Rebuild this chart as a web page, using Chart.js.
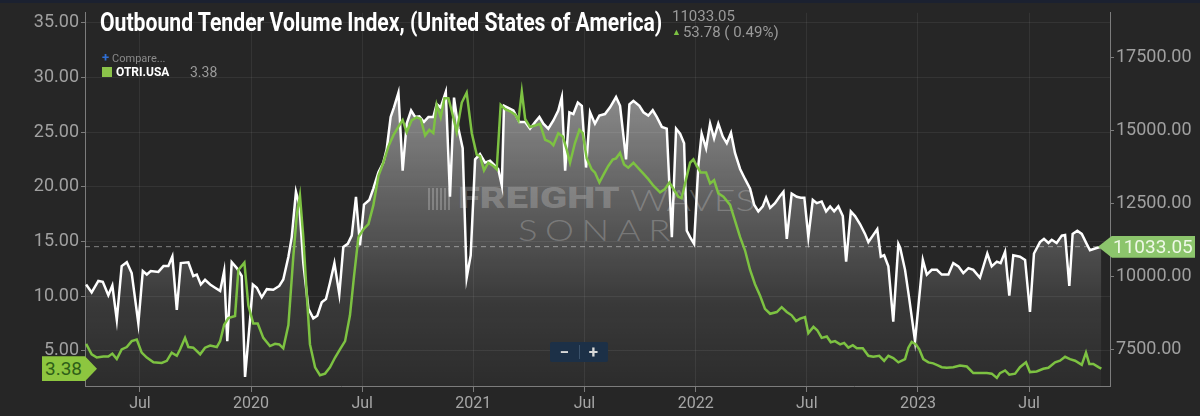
<!DOCTYPE html>
<html>
<head>
<meta charset="utf-8">
<script src="https://cdn.jsdelivr.net/npm/chart.js@4.4.0/dist/chart.umd.min.js"></script>
<style>
    body { margin: 0; background: #262626; font-family: Roboto, "Noto Sans", sans-serif; overflow: hidden; }
    #wrap { position: relative; width: 1200px; height: 416px; }
    #topbar { position: absolute; left: 0; top: 0; width: 1200px; height: 3px; background: #1b2130; z-index: 3; }
    #c { position: absolute; left: 0; top: 0; z-index: 2; }
    .txt { position: absolute; white-space: nowrap; line-height: 1; transform-origin: left center; }
    #title { left: 100px; top: 10px; font-size: 25px; font-weight: 700; color: #ffffff; z-index: 4; }
    #lastVal { left: 672px; top: 9px; font-size: 15px; color: #9a9a9a; z-index: 4; }
    #change { left: 672px; top: 25px; font-size: 15px; color: #9a9a9a; z-index: 4; }
    #change span { color: #7cc242; font-size: 9px; vertical-align: 2px; margin-right: 2px; }
    #compare { left: 102px; top: 51px; font-size: 11px; color: #8a8a8a; z-index: 4; }
    #compare b { color: #2f6fd6; font-size: 13px; margin-right: 3px; }
    #legSq { position: absolute; left: 102px; top: 67px; width: 10px; height: 10px; background: #8bc34a; z-index: 4; }
    #legName { left: 116px; top: 66px; font-size: 12px; font-weight: 700; color: #ffffff; z-index: 4; }
    #legVal { left: 190px; top: 65px; font-size: 14px; color: #9a9a9a; z-index: 4; }
    .wm { position: absolute; white-space: nowrap; line-height: 1; transform-origin: left center; color: rgba(160,160,160,0.4); z-index: 1; }
    #wmLogo { position: absolute; left: 428px; top: 188px; width: 22px; height: 22px; z-index: 1;
        background: repeating-linear-gradient(90deg, rgba(160,160,160,0.4) 0 2px, transparent 2px 4px); }
    #wmF { left: 458px; top: 184px; font-family: Roboto, sans-serif; font-weight: 900; font-size: 29px; }
    #wmW { left: 630px; top: 185px; font-family: Lato, sans-serif; font-weight: 300; font-size: 29px; }
    #wmS { left: 518px; top: 215px; font-family: Lato, sans-serif; font-weight: 300; font-size: 29px; letter-spacing: 6px; }
    #zoomBox { position: absolute; left: 550px; top: 342px; width: 58px; height: 20px; background: #1c3047; border-radius: 2px; z-index: 4;
        color: #d8d8d8; font-size: 17px; font-weight: 700; line-height: 20px; }
    #zoomBox span { position: absolute; top: 0; width: 29px; text-align: center; }
    #zoomBox i { position: absolute; left: 29px; top: 3px; width: 1px; height: 14px; background: #3b526b; }
    #boxR { position: absolute; left: 1098px; width: 97px; height: 22px; background: #8cc56c; z-index: 4;
        clip-path: polygon(0 50%, 14px 0, 100% 0, 100% 100%, 14px 100%);
        color: #eef8e6; font-size: 19px; line-height: 22px; padding-left: 15px; box-sizing: border-box; }
    #boxL { position: absolute; left: 42px; width: 55px; height: 25px; background: #8dc63f; z-index: 4;
        clip-path: polygon(0 0, 43px 0, 100% 50%, 43px 100%, 0 100%);
        color: #2f5f18; font-size: 19px; line-height: 25px; padding-left: 3px; box-sizing: border-box; }
</style>
</head>
<body>
<div id="wrap">
    <div id="topbar"></div>
    <div id="wmLogo"></div>
    <div class="wm" id="wmF">FREIGHT</div>
    <div class="wm" id="wmW">WAVES</div>
    <div class="wm" id="wmS">SONAR</div>
    <canvas id="c" width="1200" height="416"></canvas>
    <div class="txt" id="title">Outbound Tender Volume Index, (United States of America)</div>
    <div class="txt" id="lastVal"></div>
    <div class="txt" id="change"></div>
    <div class="txt" id="compare"><b>+</b>Compare...</div>
    <div id="legSq"></div>
    <div class="txt" id="legName">OTRI.USA</div>
    <div class="txt" id="legVal"></div>
    <div id="zoomBox"><span style="left:0">&minus;</span><i></i><span style="left:29px">+</span></div>
    <div id="boxR"></div>
    <div id="boxL"></div>
</div>
<script>
// Outbound Tender Volume Index (white, right axis), dates as decimal years
const otviDates = [
    2019.258, 2019.283, 2019.313, 2019.333, 2019.358, 2019.376, 2019.396, 2019.418, 2019.441, 2019.463,
    2019.493, 2019.513, 2019.531, 2019.549, 2019.583, 2019.606, 2019.628, 2019.646, 2019.666, 2019.684,
    2019.718, 2019.740, 2019.756, 2019.774, 2019.793, 2019.816, 2019.838, 2019.861, 2019.879, 2019.893,
    2019.913, 2019.936, 2019.958, 2019.973, 2019.996, 2020.008, 2020.026, 2020.048, 2020.071, 2020.100,
    2020.127, 2020.145, 2020.168, 2020.183, 2020.202, 2020.217, 2020.235, 2020.258, 2020.280, 2020.298,
    2020.318, 2020.337, 2020.355, 2020.375, 2020.397, 2020.415, 2020.435, 2020.453, 2020.472, 2020.490,
    2020.508, 2020.532, 2020.550, 2020.573, 2020.595, 2020.610, 2020.628, 2020.643, 2020.663, 2020.682,
    2020.700, 2020.720, 2020.738, 2020.757, 2020.778, 2020.798, 2020.820, 2020.835, 2020.853, 2020.876,
    2020.895, 2020.913, 2020.933, 2020.952, 2020.970, 2020.988, 2021.008, 2021.030, 2021.053, 2021.075,
    2021.098, 2021.112, 2021.128, 2021.138, 2021.180, 2021.207, 2021.233, 2021.255, 2021.278, 2021.297,
    2021.315, 2021.337, 2021.360, 2021.382, 2021.398, 2021.413, 2021.432, 2021.450, 2021.470, 2021.488,
    2021.507, 2021.525, 2021.547, 2021.567, 2021.592, 2021.615, 2021.642, 2021.660, 2021.687, 2021.702,
    2021.720, 2021.747, 2021.765, 2021.787, 2021.807, 2021.825, 2021.848, 2021.870, 2021.893, 2021.912,
    2021.930, 2021.948, 2021.960, 2021.975, 2021.993, 2022.012, 2022.027, 2022.047, 2022.065, 2022.083,
    2022.102, 2022.122, 2022.140, 2022.159, 2022.177, 2022.200, 2022.222, 2022.245, 2022.263, 2022.282,
    2022.302, 2022.317, 2022.335, 2022.357, 2022.377, 2022.395, 2022.410, 2022.432, 2022.455, 2022.473,
    2022.489, 2022.507, 2022.527, 2022.545, 2022.567, 2022.587, 2022.605, 2022.623, 2022.642, 2022.662,
    2022.677, 2022.698, 2022.717, 2022.740, 2022.762, 2022.777, 2022.797, 2022.817, 2022.833, 2022.848,
    2022.867, 2022.889, 2022.912, 2022.920, 2022.942, 2022.960, 2022.987, 2023.022, 2023.040, 2023.062,
    2023.085, 2023.107, 2023.137, 2023.159, 2023.182, 2023.204, 2023.227, 2023.249, 2023.279, 2023.312,
    2023.332, 2023.355, 2023.372, 2023.392, 2023.411, 2023.429, 2023.459, 2023.482, 2023.504, 2023.522,
    2023.549, 2023.567, 2023.587, 2023.602, 2023.624, 2023.647, 2023.662, 2023.681, 2023.696, 2023.717,
    2023.737, 2023.759, 2023.774, 2023.797, 2023.825
];
const otviValues = [
    9740, 9470, 9860, 9830, 9370, 9700, 8530, 10370, 10500, 10130,
    8410, 10200, 10080, 10200, 10170, 10370, 10370, 10700, 8870, 10470,
    10500, 10030, 10080, 9740, 9900, 9740, 9630, 9520, 10200, 7800,
    10500, 10300, 10030, 6580, 8580, 9740, 9630, 9300, 9580, 9560,
    9690, 9910, 10690, 11360, 12910, 12470, 10470, 8910, 8580, 8670,
    9130, 9240, 9800, 10470, 9410, 11020, 11130, 11410, 12740, 11080,
    12470, 12630, 13020, 13580, 13910, 14360, 15470, 15800, 16300, 13630,
    15240, 15690, 15470, 15490, 15300, 15470, 15470, 15910, 15800, 16330,
    12740, 16130, 15070, 14400, 9970, 10740, 14020, 14200, 13910, 13970,
    13800, 13690, 13130, 15850, 15690, 15300, 15300, 15070, 15300, 15470,
    15240, 15070, 15350, 15690, 16150, 13630, 15630, 15570, 15960, 15850,
    13740, 15630, 15240, 15520, 15570, 15800, 16150, 15850, 14020, 15900,
    16020, 15850, 15630, 15520, 15700, 15470, 15130, 15070, 11360, 15070,
    14900, 14570, 11580, 11360, 11130, 13800, 14900, 14400, 15240, 14740,
    15240, 14800, 14570, 14930, 14240, 13690, 13350, 13020, 12470, 12240,
    12410, 12710, 12360, 12520, 12740, 12910, 11300, 12850, 12740, 12710,
    12710, 11360, 12630, 12520, 12580, 12240, 12410, 12240, 12410, 12080,
    10520, 12240, 12080, 11800, 11470, 11190, 11410, 11630, 10690, 10740,
    10360, 8470, 11130, 11000, 10240, 9300, 7800, 10580, 10080, 10240,
    10240, 10080, 10080, 10470, 10360, 10130, 10300, 10240, 9970, 10800,
    10360, 10520, 10470, 10860, 9360, 10740, 10690, 10580, 8800, 10800,
    11190, 11300, 11160, 11270, 11160, 11410, 11430, 9690, 11470, 11580,
    11470, 11130, 10910, 10970, 11033.05
];

// Outbound Tender Reject Index (green, left axis)
const otriDates = [
    2019.258, 2019.283, 2019.306, 2019.336, 2019.358, 2019.376, 2019.396, 2019.418, 2019.441, 2019.463,
    2019.486, 2019.508, 2019.531, 2019.561, 2019.598, 2019.621, 2019.643, 2019.666, 2019.681, 2019.703,
    2019.718, 2019.740, 2019.771, 2019.793, 2019.816, 2019.846, 2019.861, 2019.879, 2019.898, 2019.928,
    2019.943, 2019.970, 2019.988, 2020.010, 2020.030, 2020.055, 2020.085, 2020.108, 2020.127, 2020.145,
    2020.168, 2020.190, 2020.206, 2020.220, 2020.235, 2020.251, 2020.265, 2020.288, 2020.310, 2020.333,
    2020.355, 2020.378, 2020.400, 2020.423, 2020.445, 2020.463, 2020.483, 2020.505, 2020.528, 2020.550,
    2020.573, 2020.595, 2020.618, 2020.640, 2020.663, 2020.682, 2020.700, 2020.723, 2020.745, 2020.763,
    2020.783, 2020.802, 2020.820, 2020.835, 2020.853, 2020.870, 2020.888, 2020.903, 2020.925, 2020.948,
    2020.970, 2020.993, 2021.015, 2021.030, 2021.048, 2021.067, 2021.090, 2021.105, 2021.123, 2021.143,
    2021.165, 2021.188, 2021.203, 2021.218, 2021.233, 2021.255, 2021.278, 2021.300, 2021.323, 2021.345,
    2021.360, 2021.382, 2021.402, 2021.420, 2021.435, 2021.457, 2021.477, 2021.492, 2021.510, 2021.532,
    2021.547, 2021.567, 2021.588, 2021.607, 2021.627, 2021.642, 2021.660, 2021.678, 2021.697, 2021.720,
    2021.747, 2021.765, 2021.787, 2021.810, 2021.840, 2021.862, 2021.882, 2021.900, 2021.922, 2021.937,
    2021.957, 2021.975, 2021.990, 2022.005, 2022.023, 2022.047, 2022.065, 2022.083, 2022.102, 2022.125,
    2022.155, 2022.177, 2022.200, 2022.222, 2022.245, 2022.267, 2022.290, 2022.312, 2022.335, 2022.365,
    2022.387, 2022.410, 2022.432, 2022.452, 2022.470, 2022.492, 2022.507, 2022.530, 2022.547, 2022.567,
    2022.590, 2022.608, 2022.627, 2022.650, 2022.668, 2022.687, 2022.707, 2022.725, 2022.752, 2022.777,
    2022.799, 2022.826, 2022.848, 2022.867, 2022.889, 2022.912, 2022.942, 2022.957, 2022.972, 2022.991,
    2023.006, 2023.024, 2023.047, 2023.069, 2023.092, 2023.107, 2023.130, 2023.159, 2023.189, 2023.220,
    2023.249, 2023.279, 2023.310, 2023.332, 2023.355, 2023.369, 2023.392, 2023.411, 2023.437, 2023.459,
    2023.486, 2023.504, 2023.534, 2023.564, 2023.587, 2023.617, 2023.639, 2023.662, 2023.684, 2023.707,
    2023.737, 2023.756, 2023.771, 2023.789, 2023.812, 2023.825
];
const otriValues = [
    5.65, 4.70, 4.40, 4.50, 4.50, 4.76, 4.26, 5.15, 5.36, 5.90,
    6.04, 4.85, 4.40, 3.96, 3.90, 4.10, 4.85, 4.56, 5.15, 6.20,
    5.36, 5.30, 4.70, 5.30, 5.50, 5.36, 5.90, 7.40, 8.00, 8.20,
    12.40, 13.07, 9.15, 7.50, 7.50, 6.20, 5.45, 5.65, 5.60, 5.24,
    7.37, 13.60, 17.46, 19.20, 15.40, 10.04, 5.60, 3.50, 2.78, 2.93,
    3.50, 4.40, 5.15, 5.90, 8.26, 11.80, 15.40, 16.10, 16.60, 18.30,
    21.00, 22.20, 23.70, 24.70, 25.50, 26.10, 25.00, 26.10, 26.35, 26.20,
    24.70, 25.20, 24.90, 27.50, 26.35, 28.10, 28.10, 26.90, 25.00, 27.70,
    28.60, 24.90, 22.95, 22.80, 21.50, 22.20, 21.90, 21.60, 27.50, 27.10,
    26.90, 26.60, 26.05, 28.70, 26.20, 25.46, 25.60, 25.75, 24.30, 24.10,
    23.80, 24.90, 24.60, 23.40, 22.20, 24.00, 25.20, 24.90, 22.60, 21.60,
    21.30, 20.40, 21.20, 21.90, 22.50, 22.60, 23.10, 22.05, 21.75, 22.20,
    21.60, 21.20, 20.70, 20.10, 19.50, 19.80, 20.40, 19.80, 19.10, 18.95,
    20.70, 22.20, 22.50, 21.90, 21.30, 21.30, 20.30, 20.60, 19.40, 19.10,
    18.35, 16.90, 15.40, 14.20, 12.40, 11.10, 10.04, 8.85, 8.40, 8.56,
    9.00, 8.56, 8.26, 7.73, 7.96, 8.10, 6.63, 7.20, 6.90, 6.20,
    6.33, 5.80, 5.90, 5.60, 5.74, 5.30, 5.53, 5.24, 5.24, 4.56,
    4.47, 4.56, 4.10, 4.56, 4.35, 3.96, 4.26, 5.30, 5.83, 5.60,
    5.15, 4.26, 3.96, 3.87, 3.67, 3.52, 3.46, 3.52, 3.67, 3.58,
    2.98, 2.98, 2.98, 2.93, 2.54, 2.98, 3.22, 2.84, 2.93, 3.52,
    3.96, 3.07, 3.13, 3.37, 3.46, 3.96, 4.11, 4.47, 4.26, 4.11,
    3.73, 4.85, 3.82, 3.82, 3.52, 3.38
];

const xTickValues = [2019.5, 2020, 2020.5, 2021, 2021.5, 2022, 2022.5, 2023, 2023.5];
const xTickLabels = ['Jul', '2020', 'Jul', '2021', 'Jul', '2022', 'Jul', '2023', 'Jul'];
const leftTicks = [5, 10, 15, 20, 25, 30, 35];
const rightTicks = [7500, 10000, 12500, 15000, 17500];

const otviChange = 53.78;
const otviChangePct = 0.49;

const lastOtvi = otviValues[otviValues.length - 1];
const lastOtri = otriValues[otriValues.length - 1];

Chart.defaults.font.family = 'Roboto';

// dashed line at the latest OTVI value
const lastLinePlugin = {
    id: 'lastLine',
    beforeDatasetsDraw(chart) {
        const { ctx, chartArea } = chart;
        const y = chart.scales.yR.getPixelForValue(lastOtvi);
        ctx.save();
        ctx.strokeStyle = 'rgba(190,190,190,0.6)';
        ctx.lineWidth = 1;
        ctx.setLineDash([5, 4]);
        ctx.beginPath();
        ctx.moveTo(chartArea.left, y);
        ctx.lineTo(chartArea.right, y);
        ctx.stroke();
        ctx.restore();
    }
};

const axisGray = '#7c7c7c';
const gridColor = 'rgba(255,255,255,0.065)';

const ctx = document.getElementById('c').getContext('2d');
const chart = new Chart(ctx, {
    type: 'line',
    data: {
        datasets: [{
            label: 'OTRI.USA',
            data: otriDates.map((d, i) => ({ x: d, y: otriValues[i] })),
            yAxisID: 'yL',
            borderColor: '#7dc242',
            borderWidth: 2.5,
            pointRadius: 0,
            fill: false,
            tension: 0,
            order: 1
        }, {
            label: 'OTVI.USA',
            data: otviDates.map((d, i) => ({ x: d, y: otviValues[i] })),
            yAxisID: 'yR',
            borderColor: '#ffffff',
            borderWidth: 2.5,
            pointRadius: 0,
            tension: 0,
            fill: 'start',
            backgroundColor: function(context) {
                const area = context.chart.chartArea;
                if (!area) return 'rgba(255,255,255,0.2)';
                const g = context.chart.ctx.createLinearGradient(0, area.top, 0, area.bottom);
                g.addColorStop(0, 'rgba(255,255,255,0.62)');
                g.addColorStop(0.45, 'rgba(255,255,255,0.3)');
                g.addColorStop(0.78, 'rgba(255,255,255,0.09)');
                g.addColorStop(1, 'rgba(255,255,255,0.03)');
                return g;
            },
            order: 2
        }]
    },
    options: {
        responsive: false,
        animation: false,
        events: [],
        layout: { padding: { top: 3, left: 0, right: 0, bottom: 0 } },
        plugins: { legend: { display: false }, tooltip: { enabled: false } },
        scales: {
            x: {
                type: 'linear',
                min: 2019.253,
                max: 2023.864,
                afterBuildTicks: scale => { scale.ticks = xTickValues.map(v => ({ value: v })); },
                afterFit: scale => { scale.height = 30; },
                ticks: {
                    color: '#a6a6a6',
                    font: { size: 16 },
                    padding: 2,
                    maxRotation: 0,
                    autoSkip: false,
                    callback: v => xTickLabels[xTickValues.indexOf(v)]
                },
                grid: { color: gridColor, tickColor: axisGray, tickLength: 6 },
                border: { color: axisGray, width: 1 }
            },
            yL: {
                position: 'left',
                min: 1.8,
                max: 35.9,
                afterBuildTicks: scale => { scale.ticks = leftTicks.map(v => ({ value: v })); },
                afterFit: scale => { scale.width = 85; },
                ticks: {
                    color: '#a0a0a0',
                    font: { size: 18 },
                    padding: 2,
                    callback: v => v.toFixed(2)
                },
                grid: { color: gridColor, tickColor: axisGray, tickLength: 4 },
                border: { color: axisGray, width: 1 }
            },
            yR: {
                position: 'right',
                min: 6267,
                max: 19033,
                afterBuildTicks: scale => { scale.ticks = rightTicks.map(v => ({ value: v })); },
                afterFit: scale => { scale.width = 90; },
                ticks: {
                    color: '#a0a0a0',
                    font: { size: 18 },
                    padding: 2,
                    callback: v => v.toFixed(2)
                },
                grid: { drawOnChartArea: false, tickColor: axisGray, tickLength: 4 },
                border: { color: axisGray, width: 1 }
            }
        }
    },
    plugins: [lastLinePlugin]
});

// header and legend texts
document.getElementById('lastVal').textContent = lastOtvi.toFixed(2);
document.getElementById('change').innerHTML = '<span>&#9650;</span>' + otviChange.toFixed(2) + ' ( ' + otviChangePct.toFixed(2) + '%)';
document.getElementById('legVal').textContent = lastOtri.toFixed(2);

// value boxes at the axes
const boxR = document.getElementById('boxR');
boxR.textContent = lastOtvi.toFixed(2);
boxR.style.top = (chart.scales.yR.getPixelForValue(lastOtvi) - 11) + 'px';
const boxL = document.getElementById('boxL');
boxL.textContent = lastOtri.toFixed(2);
boxL.style.top = (chart.scales.yL.getPixelForValue(lastOtri) - 12.5) + 'px';

// squeeze texts to the widths seen in the picture
function fitWidth(id, w) {
    const el = document.getElementById(id);
    el.style.transform = 'scaleX(' + (w / el.offsetWidth) + ')';
}
fitWidth('title', 562);
fitWidth('wmF', 162);
fitWidth('wmW', 125);
fitWidth('wmS', 160);
</script>
</body>
</html>
